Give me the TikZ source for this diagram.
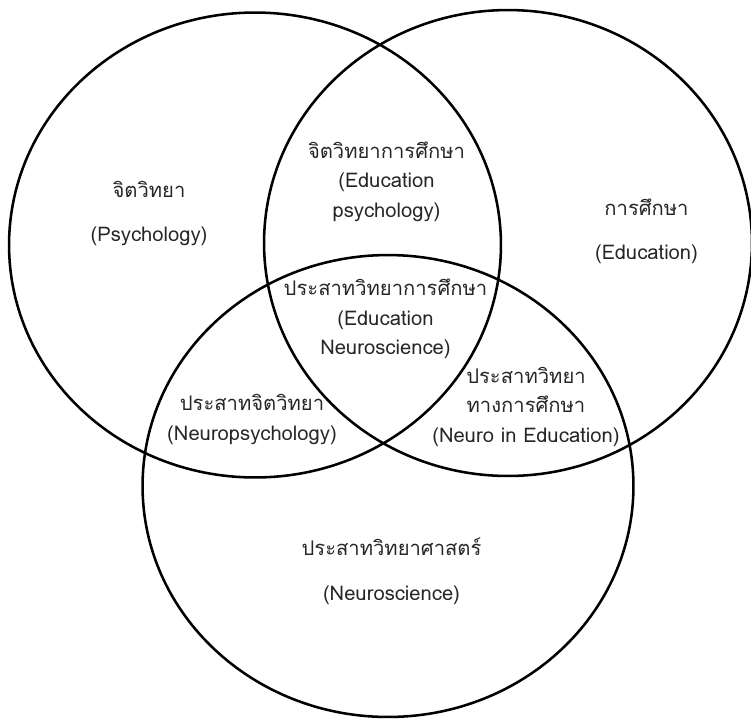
\documentclass[tikz,border=0pt]{standalone}
\usepackage{fontspec}
\setmainfont[Script=Thai]{Loma}
\usepackage{tikz}

\begin{document}
\begin{tikzpicture}[
  x=0.02cm, y=-0.02cm,
  ring/.style ={draw=black, line width=1.45pt},
  area/.style ={align=center, inner sep=0pt, text=black!85,
                font=\fontsize{11.5}{16.8}\selectfont}
]
\useasboundingbox (0,0) rectangle (751,718);

% circle centres
\coordinate (psyc) at (255,245);
\coordinate (educ) at (508,243);
\coordinate (neuc) at (388,486);

\draw[ring] (psyc) ellipse [x radius=4.92cm, y radius=4.65cm];
\draw[ring] (educ) ellipse [x radius=4.88cm, y radius=4.66cm];
\draw[ring] (neuc) ellipse [x radius=4.91cm, y radius=4.62cm];

\node[area] (psy)      at (149,213.5) {จิตวิทยา\\[0.3cm](Psychology)};
\node[area] (edu)      at (646.5,231.5) {การศึกษา\\[0.28cm](Education)};
\node[area] (neuro)    at (391.5,571) {ประสาทวิทยาศาสตร์\\[0.3cm](Neuroscience)};
\node[area] (edupsy)   at (386.5,181.5) {จิตวิทยาการศึกษา\\(Education\\psychology)};
\node[area] (eduneuro) at (385.5,319) {ประสาทวิทยาการศึกษา\\(Education\\Neuroscience)};
\node[area] (neuroedu) at (526,406.8) {ประสาทวิทยา\\ทางการศึกษา\\(Neuro in Education)};
\node[area] (neuropsy) at (252,419.5) {ประสาทจิตวิทยา\\(Neuropsychology)};
\end{tikzpicture}
\end{document}
